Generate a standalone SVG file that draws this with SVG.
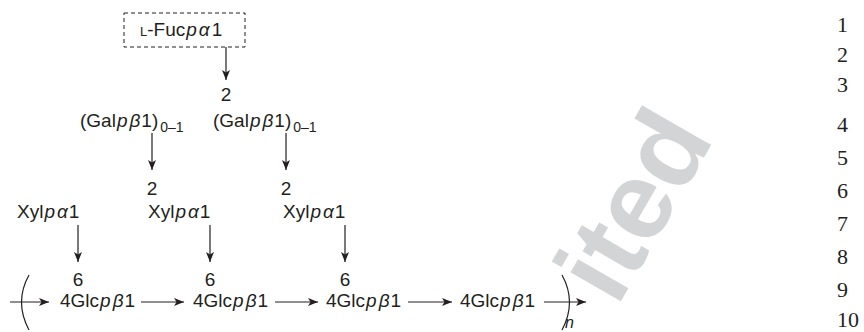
<svg xmlns="http://www.w3.org/2000/svg" width="864" height="332" viewBox="0 0 864 332">
<defs>
<marker id="ah" viewBox="0 0 10 8" refX="10" refY="4" markerWidth="11" markerHeight="8" markerUnits="userSpaceOnUse" orient="auto">
<path d="M0,0 L10,4 L0,8 L2.5,4 Z" fill="#231f20"/>
</marker>
<style>
.t{font-family:"Liberation Sans",Arial,sans-serif;font-size:19px;fill:#231f20}
.i{font-style:italic}
.sub{font-size:14px}
.sc{font-size:13px}
.c{stroke:#231f20;stroke-width:1.2;fill:none}
.a{stroke:#231f20;stroke-width:1.2;fill:none;marker-end:url(#ah)}
.ln{font-family:"Liberation Serif","Times New Roman",serif;font-size:22px;fill:#231f20}
.wm{font-family:"Liberation Sans",Arial,sans-serif;font-weight:bold;font-size:110px;fill:#d3d4d6}
</style>
</defs>
<rect width="864" height="332" fill="#ffffff"/>
<text class="wm" x="617" y="308" transform="rotate(-60 617 308)">ited</text>

<g id="fuc">
<rect x="124" y="13" width="121" height="34" fill="none" stroke="#231f20" stroke-width="1" stroke-dasharray="4,3"/>
<text class="t" x="140" y="36"><tspan class="sc">L</tspan>-Fuc<tspan class="i" dx="1">p</tspan><tspan class="i" dx="2">α</tspan><tspan dx="2">1</tspan></text>
</g>
<g id="gal1">
<text class="t" x="80" y="127">(Gal<tspan class="i" dx="1">p</tspan><tspan class="i" dx="2">β</tspan><tspan dx="1">1)</tspan><tspan class="sub" dy="5" dx="2">0–1</tspan></text>
</g>
<g id="gal2">
<text class="t" x="226" y="101" text-anchor="middle">2</text>
<text class="t" x="213" y="127">(Gal<tspan class="i" dx="1">p</tspan><tspan class="i" dx="2">β</tspan><tspan dx="1">1)</tspan><tspan class="sub" dy="5" dx="2">0–1</tspan></text>
</g>
<g id="xyl1">
<text class="t" x="17" y="218">Xyl<tspan class="i" dx="1">p</tspan><tspan class="i" dx="2">α</tspan><tspan dx="1">1</tspan></text>
</g>
<g id="xyl2">
<text class="t" x="152" y="195" text-anchor="middle">2</text>
<text class="t" x="148" y="218">Xyl<tspan class="i" dx="1">p</tspan><tspan class="i" dx="2">α</tspan><tspan dx="1">1</tspan></text>
</g>
<g id="xyl3">
<text class="t" x="286" y="195" text-anchor="middle">2</text>
<text class="t" x="283" y="218">Xyl<tspan class="i" dx="1">p</tspan><tspan class="i" dx="2">α</tspan><tspan dx="1">1</tspan></text>
</g>
<g id="glc1">
<text class="t" x="78" y="286" text-anchor="middle">6</text>
<text class="t" x="60" y="307">4Glc<tspan class="i" dx="1">p</tspan><tspan class="i" dx="2">β</tspan><tspan dx="1">1</tspan></text>
</g>
<g id="glc2">
<text class="t" x="210" y="286" text-anchor="middle">6</text>
<text class="t" x="193" y="307">4Glc<tspan class="i" dx="1">p</tspan><tspan class="i" dx="2">β</tspan><tspan dx="1">1</tspan></text>
</g>
<g id="glc3">
<text class="t" x="345" y="286" text-anchor="middle">6</text>
<text class="t" x="326" y="307">4Glc<tspan class="i" dx="1">p</tspan><tspan class="i" dx="2">β</tspan><tspan dx="1">1</tspan></text>
</g>
<g id="glc4">
<text class="t" x="460" y="307">4Glc<tspan class="i" dx="1">p</tspan><tspan class="i" dx="2">β</tspan><tspan dx="1">1</tspan></text>
</g>
<g id="repeat">
<path class="c" d="M29,275 Q14,302 29,330"/>
<path class="c" d="M562,275 Q577,302 562,330"/>
<text class="t i" x="565" y="328" style="font-size:16px">n</text>
</g>

<g id="connectors">
<line class="a" x1="226" y1="47" x2="226" y2="80"/>
<line class="a" x1="152" y1="133" x2="152" y2="170"/>
<line class="a" x1="286" y1="133" x2="286" y2="170"/>
<line class="a" x1="78" y1="225" x2="78" y2="262"/>
<line class="a" x1="210" y1="225" x2="210" y2="262"/>
<line class="a" x1="345" y1="225" x2="345" y2="262"/>
<line class="a" x1="10" y1="302" x2="49" y2="302"/>
<line class="a" x1="141" y1="302" x2="184" y2="302"/>
<line class="a" x1="275" y1="302" x2="318" y2="302"/>
<line class="a" x1="408" y1="302" x2="452" y2="302"/>
<line class="a" x1="544" y1="302" x2="586" y2="302"/>
</g>

<g id="linenumbers">
<text class="ln" x="837" y="32">1</text>
<text class="ln" x="837" y="62">2</text>
<text class="ln" x="837" y="92">3</text>
<text class="ln" x="837" y="132">4</text>
<text class="ln" x="837" y="165">5</text>
<text class="ln" x="837" y="198">6</text>
<text class="ln" x="837" y="231">7</text>
<text class="ln" x="837" y="264">8</text>
<text class="ln" x="837" y="297">9</text>
<text class="ln" x="837" y="327">10</text>
</g>
</svg>
